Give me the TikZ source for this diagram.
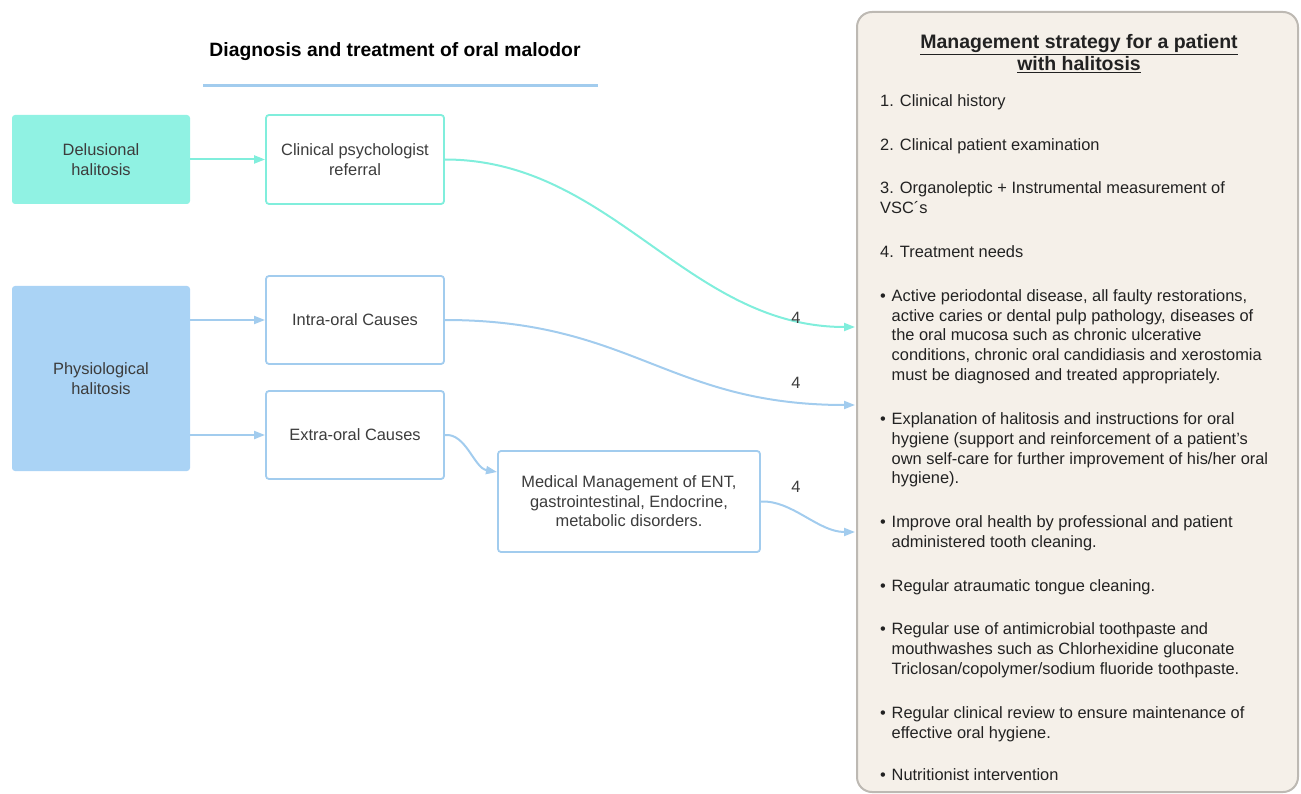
\documentclass[tikz,border=0pt]{standalone}
\usepackage{fontspec}
\setmainfont{Liberation Sans}
\usetikzlibrary{arrows.meta}
\definecolor{cyanfill}{HTML}{90F2E3}
\definecolor{cyanline}{HTML}{80EEDC}
\definecolor{bluefill}{HTML}{AAD3F5}
\definecolor{blueline}{HTML}{A2CCEE}
\definecolor{panelfill}{HTML}{F5F0E9}
\definecolor{panelline}{HTML}{BDB9B3}
\definecolor{boxtext}{HTML}{3C3C3C}
\definecolor{paneltext}{HTML}{222222}
\newcommand{\mybullet}{\makebox[11.5pt][l]{\textbullet}}
\begin{document}
\begin{tikzpicture}[x=1pt,y=-1pt,
  srcbox/.style={rectangle, rounded corners=3pt, minimum width=178pt, minimum height=89pt,
    align=center, text=boxtext, font=\fontsize{16.4}{19.5}\selectfont, inner sep=2pt},
  fillcyan/.style={srcbox, fill=cyanfill},
  fillblue/.style={srcbox, fill=bluefill},
  outcyan/.style={srcbox, fill=white, draw=cyanline, line width=1.8pt},
  outblue/.style={srcbox, fill=white, draw=blueline, line width=1.8pt},
  cyanarrow/.style={draw=cyanline, line width=2pt, -{Triangle[length=11pt,width=8pt]}},
  bluearrow/.style={draw=blueline, line width=2pt, -{Triangle[length=11pt,width=8pt]}},
  ptext/.style={anchor=base west, inner sep=0pt, align=left, text=paneltext,
    font=\fontsize{16.4}{19.75}\selectfont},
  ptitle/.style={anchor=base, inner sep=0pt, text=paneltext, font=\bfseries\fontsize{19.5}{22}\selectfont},
  numlabel/.style={inner sep=1pt, text=boxtext, font=\fontsize{16.4}{18}\selectfont}
]
\useasboundingbox (0,0) rectangle (1301,794);

% title
\node[font=\bfseries\fontsize{19.3}{22}\selectfont, anchor=base, text=black, inner sep=0pt] (title) at (395,57)
  {Diagnosis and treatment of oral malodor};
\coordinate (tl1) at (203,86);
\coordinate (tl2) at (598,86);
\draw[blueline, line width=3pt] (tl1) -- (tl2);

% left boxes
\node[fillcyan] (delus) at (101,159.5) {Delusional\\halitosis};
\node[outcyan] (clin) at (355,159.5) {Clinical psychologist\\referral};
\node[fillblue, minimum height=185pt] (phys) at (101,378.5) {Physiological\\halitosis};
\node[outblue, minimum height=88pt] (intra) at (355,320) {Intra-oral Causes};
\node[outblue, minimum height=88pt] (extra) at (355,435) {Extra-oral Causes};
\node[outblue, minimum width=262pt, minimum height=101pt] (med) at (629,501.5)
  {Medical Management of ENT,\\gastrointestinal, Endocrine,\\metabolic disorders.};

% panel
\node[rectangle, rounded corners=15pt, fill=panelfill, draw=panelline, line width=2pt,
  minimum width=441pt, minimum height=780pt] (panel) at (1077.5,402) {};

\node[ptitle] (pt1) at (1079,49) {\underline{Management strategy for a patient}};
\node[ptitle] (pt2) at (1079,71) {\underline{with halitosis}};

\node[ptext] (i1) at (880,106.5) {1. Clinical history};
\node[ptext] (i2) at (880,150.5) {2. Clinical patient examination};
\node[ptext] (i3) at (880,193.5) {\begin{tabular}[t]{@{}l@{}}3. Organoleptic + Instrumental measurement of\\VSC´s\end{tabular}};
\node[ptext] (i4) at (880,257.5) {4. Treatment needs};
\node[ptext] (b1) at (880,301.5) {\begin{tabular}[t]{@{}l@{}l@{}}\mybullet&Active periodontal disease, all faulty restorations,\\
 &active caries or dental pulp pathology, diseases of\\
 &the oral mucosa such as chronic ulcerative\\
 &conditions, chronic oral candidiasis and xerostomia\\
 &must be diagnosed and treated appropriately.\end{tabular}};
\node[ptext] (b2) at (880,424.5) {\begin{tabular}[t]{@{}l@{}l@{}}\mybullet&Explanation of halitosis and instructions for oral\\
 &hygiene (support and reinforcement of a patient's\\
 &own self-care for further improvement of his/her oral\\
 &hygiene).\end{tabular}};
\node[ptext] (b3) at (880,527.5) {\begin{tabular}[t]{@{}l@{}l@{}}\mybullet&Improve oral health by professional and patient\\
 &administered tooth cleaning.\end{tabular}};
\node[ptext] (b4) at (880,591.5) {\begin{tabular}[t]{@{}l@{}l@{}}\mybullet&Regular atraumatic tongue cleaning.\end{tabular}};
\node[ptext] (b5) at (880,634.5) {\begin{tabular}[t]{@{}l@{}l@{}}\mybullet&Regular use of antimicrobial toothpaste and\\
 &mouthwashes such as Chlorhexidine gluconate\\
 &Triclosan/copolymer/sodium fluoride toothpaste.\end{tabular}};
\node[ptext] (b6) at (880,718.5) {\begin{tabular}[t]{@{}l@{}l@{}}\mybullet&Regular clinical review to ensure maintenance of\\
 &effective oral hygiene.\end{tabular}};
\node[ptext] (b7) at (880,780.5) {\begin{tabular}[t]{@{}l@{}l@{}}\mybullet&Nutritionist intervention\end{tabular}};

% connectors
\draw[cyanarrow] (delus.east) -- (clin.west);
\draw[bluearrow] (phys.east |- intra.west) -- (intra.west);
\draw[bluearrow] (phys.east |- extra.west) -- (extra.west);

\coordinate (e1) at (855,327);
\coordinate (e2) at (855,405);
\coordinate (e3) at (855,532);
\coordinate (medin) at (497,472);

\draw[cyanarrow] (clin.east) .. controls (612,159.5) and (687,327) .. (e1);
\draw[bluearrow] (intra.east) .. controls (632,320) and (668,405) .. (e2);
\draw[bluearrow] (extra.east) .. controls (466,433) and (474,468) .. (medin);
\draw[bluearrow] (med.east) .. controls (792,500) and (818,532) .. (e3);

\node[numlabel] (n1) at (796,318) {4};
\node[numlabel] (n2) at (796,383) {4};
\node[numlabel] (n3) at (796,487) {4};
\end{tikzpicture}
\end{document}
